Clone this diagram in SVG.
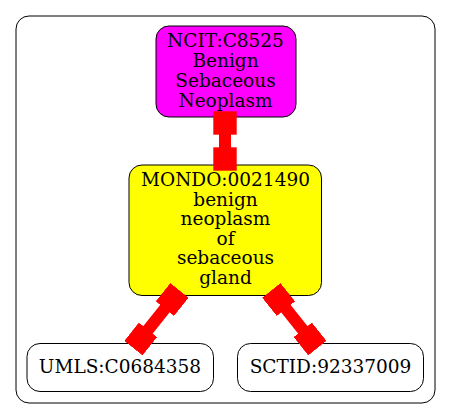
<svg xmlns="http://www.w3.org/2000/svg" width="451" height="419" viewBox="0 0 451 419">
<style>
.node{stroke:#000;stroke-width:1}
.lbl{font-family:"DejaVu Serif","Liberation Serif",serif;font-size:18.5px;text-anchor:middle;fill:#000}
.edge{stroke:#ff0000;stroke-width:12;fill:none}
</style>
<defs>
<marker id="box" viewBox="-11.7 -11.7 23.4 23.4" refX="0" refY="0" markerWidth="23.4" markerHeight="23.4" markerUnits="userSpaceOnUse" orient="auto">
<rect x="-11.7" y="-11.7" width="23.4" height="23.4" fill="#ff0000"/>
</marker>
</defs>
<rect x="0" y="0" width="451" height="419" fill="#fff"/>
<rect id="cluster" x="16" y="16" width="419" height="387" rx="13" fill="none" stroke="#000" stroke-width="1"/>
<g id="n_ncit">
<rect class="node" x="156" y="26" width="140" height="91" rx="13" fill="#ff00ff"/>
<text class="lbl" x="225.5" y="47">NCIT:C8525</text>
<text class="lbl" x="225.5" y="67">Benign</text>
<text class="lbl" x="225.5" y="87">Sebaceous</text>
<text class="lbl" x="225.5" y="106.5">Neoplasm</text>
</g>
<g id="n_mondo">
<rect class="node" x="129" y="165" width="192.5" height="130.5" rx="13" fill="#ffff00"/>
<text class="lbl" x="225.5" y="186">MONDO:0021490</text>
<text class="lbl" x="225.5" y="205.6">benign</text>
<text class="lbl" x="225.5" y="225.2">neoplasm</text>
<text class="lbl" x="225.5" y="244.8">of</text>
<text class="lbl" x="225.5" y="264.4">sebaceous</text>
<text class="lbl" x="225.5" y="284">gland</text>
</g>
<g id="n_umls">
<rect class="node" x="27" y="343.5" width="186.5" height="48" rx="13" fill="#fff"/>
<text class="lbl" x="120" y="372.7">UMLS:C0684358</text>
</g>
<g id="n_sctid">
<rect class="node" x="237.5" y="343.5" width="186" height="48" rx="13" fill="#fff"/>
<text class="lbl" x="330.5" y="372.7">SCTID:92337009</text>
</g>
<g id="edges">
<path class="edge" d="M225,123 L225,159" marker-start="url(#box)" marker-end="url(#box)"/>
<path class="edge" d="M172.2,299.5 L140.7,339" marker-start="url(#box)" marker-end="url(#box)"/>
<path class="edge" d="M278.6,299.5 L310.1,339" marker-start="url(#box)" marker-end="url(#box)"/>
</g>
</svg>
